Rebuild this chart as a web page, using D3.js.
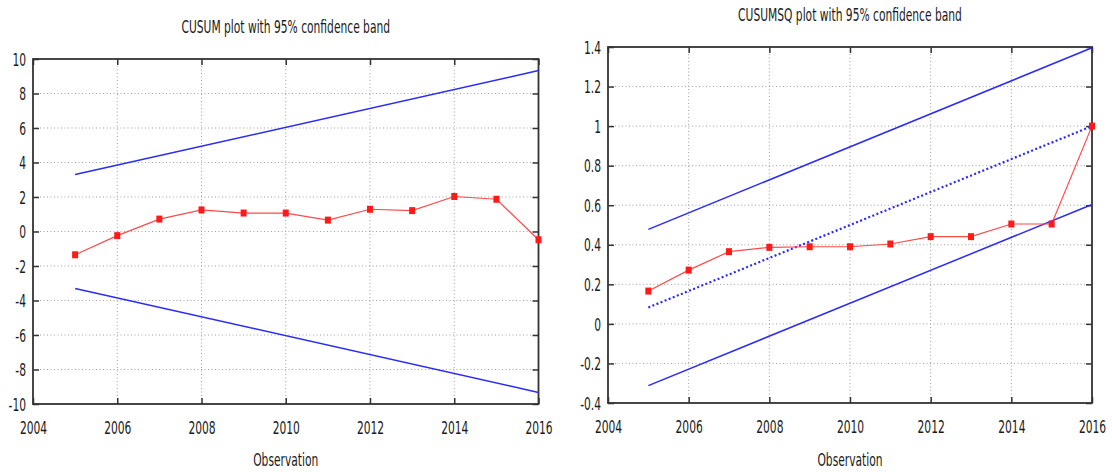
<!DOCTYPE html>
<html>
<head>
<meta charset="utf-8">
<script src="https://cdn.jsdelivr.net/npm/d3@7"></script>
<style>
  html, body { margin: 0; padding: 0; background: #fff; }
  svg { display: block; }
  text { font-family: "DejaVu Sans", sans-serif; font-size: 17px; fill: #1a1a1a; }
</style>
</head>
<body>
<svg id="chart" width="1112" height="472"></svg>
<script>
/* CUSUM / CUSUMSQ stability plots */

const years = [2005, 2006, 2007, 2008, 2009, 2010, 2011, 2012, 2013, 2014, 2015, 2016];
const cusum = [-1.35, -0.24, 0.72, 1.25, 1.07, 1.07, 0.66, 1.29, 1.21, 2.03, 1.87, -0.48];
const cusumsq = [0.166, 0.272, 0.365, 0.387, 0.39, 0.39, 0.404, 0.441, 0.441, 0.505, 0.505, 1.0];

// band lines are straight: only their end points
const bandYears = [2005, 2016];
const cusumUpper = [3.3, 9.33];
const cusumLower = [-3.3, -9.33];
const sqUpper = [0.478, 1.396];
const sqCenter = [0.083, 1.0];
const sqLower = [-0.312, 0.604];

const xTicks = [2004, 2006, 2008, 2010, 2012, 2014, 2016];
const cusumTicks = [-10, -8, -6, -4, -2, 0, 2, 4, 6, 8, 10];
const cusumsqTicks = [-0.4, -0.2, 0, 0.2, 0.4, 0.6, 0.8, 1, 1.2, 1.4];

const SX = 0.63; // glyphs in the source are squeezed horizontally
const RED = "#ff1a1a";
const BLUE = "#2a2aff";

const svg = d3.select("#chart");

function sqText(sel) {
  // squeeze text around its own anchor point
  sel.each(function () {
    const t = d3.select(this);
    const x = +t.attr("x") || 0;
    const y = +t.attr("y") || 0;
    t.attr("transform", `translate(${x},${y}) scale(${SX},1) translate(${-x},${-y})`);
  });
}

function drawPanel(opt) {
  const { left, right, top, bottom } = opt;
  const x = d3.scaleLinear().domain([2004, 2016]).range([left, right]);
  const y = d3.scaleLinear().domain(opt.domain).range([bottom, top]);
  const g = svg.append("g");

  // dotted grid
  g.selectAll("line.gx")
    .data(xTicks.slice(1, -1))
    .join("line")
    .attr("x1", d => x(d)).attr("x2", d => x(d))
    .attr("y1", top).attr("y2", bottom)
    .attr("stroke", "#a0a0a0").attr("stroke-width", 1)
    .attr("stroke-dasharray", "1,2.5");

  g.selectAll("line.gy")
    .data(opt.yTicks.slice(1, -1))
    .join("line")
    .attr("x1", left).attr("x2", right)
    .attr("y1", d => y(d)).attr("y2", d => y(d))
    .attr("stroke", "#a0a0a0").attr("stroke-width", 1)
    .attr("stroke-dasharray", "1,2.5");

  const fmt = d => String(+d.toFixed(1));

  // axes with inward ticks, mirrored on top/right
  const ax = [
    [d3.axisBottom(x).tickValues(xTicks).tickFormat(fmt), `translate(0,${bottom})`],
    [d3.axisTop(x).tickValues(xTicks).tickFormat(""), `translate(0,${top})`],
    [d3.axisLeft(y).tickValues(opt.yTicks).tickFormat(fmt), `translate(${left},0)`],
    [d3.axisRight(y).tickValues(opt.yTicks).tickFormat(""), `translate(${right},0)`],
  ];
  const axesG = ax.map(([axis, tr]) => {
    const a = g.append("g").attr("transform", tr)
      .call(axis.tickSize(-6).tickPadding(0));
    a.select(".domain").remove();
    a.selectAll(".tick line").attr("stroke", "#333").attr("stroke-width", 1.5);
    a.selectAll("text").attr("font-family", null).attr("font-size", null).attr("fill", null);
    return a;
  });

  // label placement
  axesG[0].selectAll("text").attr("y", 30).attr("dy", 0).attr("x", 0).call(sqText);
  axesG[2].selectAll("text").attr("x", -7).attr("dy", "0.36em").attr("text-anchor", "end").call(sqText);

  // frame
  g.append("rect")
    .attr("x", left).attr("y", top)
    .attr("width", right - left).attr("height", bottom - top)
    .attr("fill", "none").attr("stroke", "#333").attr("stroke-width", 1.8);

  // confidence band
  const bandLine = d3.line().x((d, i) => x(bandYears[i])).y(d => y(d));
  opt.bands.forEach(b => {
    g.append("path")
      .datum(b.values)
      .attr("d", bandLine)
      .attr("fill", "none")
      .attr("stroke", BLUE)
      .attr("stroke-width", b.dotted ? 2.2 : 1.5)
      .attr("stroke-dasharray", b.dotted ? "2,2.4" : null);
  });

  // series
  const line = d3.line().x((d, i) => x(years[i])).y(d => y(d));
  g.append("path")
    .datum(opt.values)
    .attr("d", line)
    .attr("fill", "none")
    .attr("stroke", "#ff4a4a")
    .attr("stroke-width", 1.2);

  g.selectAll("rect.pt")
    .data(opt.values)
    .join("rect")
    .attr("class", "pt")
    .attr("x", (d, i) => x(years[i]) - 3)
    .attr("y", d => y(d) - 3.5)
    .attr("width", 6).attr("height", 7)
    .attr("fill", RED);

  // titles
  const cx = (left + right) / 2;
  g.append("text")
    .attr("x", cx).attr("y", opt.titleY)
    .attr("text-anchor", "middle")
    .text(opt.title)
    .call(sqText);

  g.append("text")
    .attr("x", cx).attr("y", 466)
    .attr("text-anchor", "middle")
    .text("Observation")
    .call(sqText);
}

drawPanel({
  left: 33, right: 538.5, top: 59, bottom: 404,
  domain: [-10, 10],
  yTicks: cusumTicks,
  values: cusum,
  bands: [{ values: cusumUpper }, { values: cusumLower }],
  title: "CUSUM plot with 95% confidence band",
  titleY: 33.5,
});

drawPanel({
  left: 608, right: 1092, top: 47, bottom: 403,
  domain: [-0.4, 1.4],
  yTicks: cusumsqTicks,
  values: cusumsq,
  bands: [{ values: sqUpper }, { values: sqCenter, dotted: true }, { values: sqLower }],
  title: "CUSUMSQ plot with 95% confidence band",
  titleY: 21,
});
</script>
</body>
</html>
